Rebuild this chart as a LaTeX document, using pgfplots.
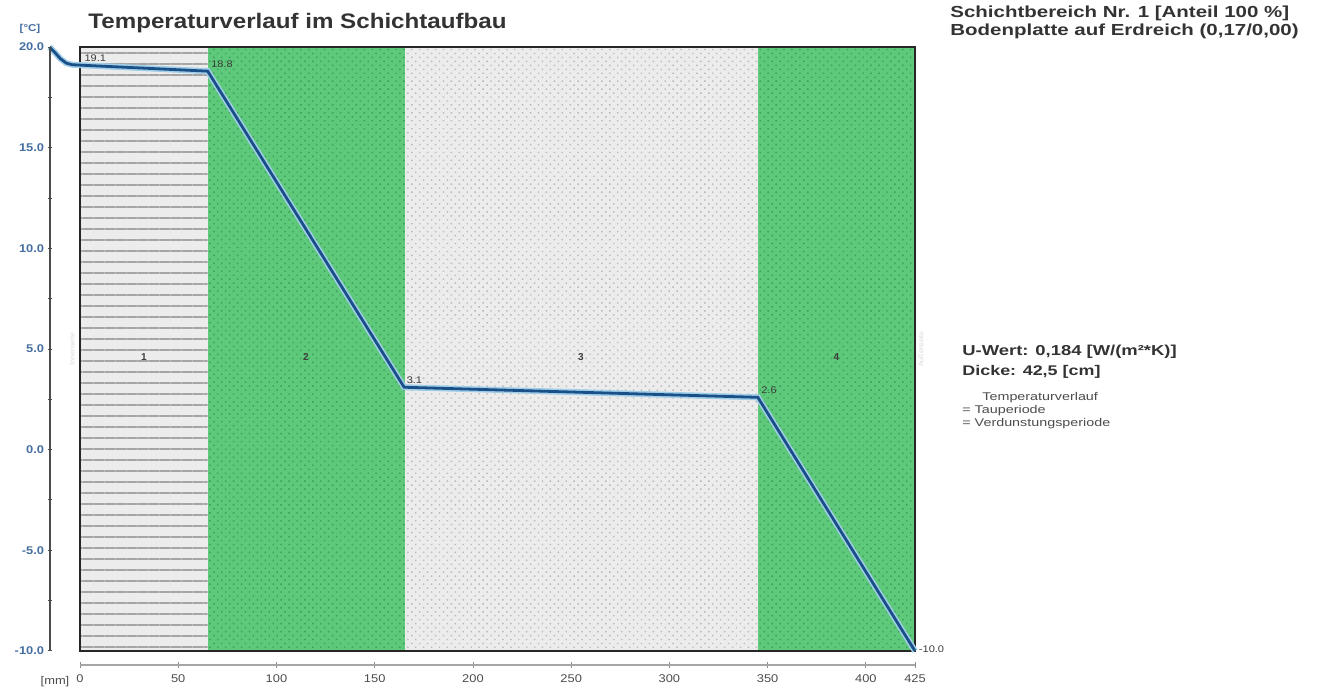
\documentclass[border=0pt]{standalone}
\usepackage{fontspec}
\setmainfont{Liberation Sans}
\newfontfamily\wide[FakeStretch=1.28]{Liberation Sans}
\newfontfamily\semiwide[FakeStretch=1.15]{Liberation Sans}
\usepackage{pgfplots}
\usepackage{pgfplotstable}
\pgfplotsset{compat=1.18}
\usetikzlibrary{patterns.meta}

\definecolor{lgreen}{RGB}{94,201,122}
\definecolor{dgreen}{RGB}{58,160,88}
\definecolor{lgray}{RGB}{236,236,236}
\definecolor{dotgray}{RGB}{185,185,185}
\definecolor{linegray}{RGB}{165,165,165}
\definecolor{lineblue}{RGB}{26,80,135}
\definecolor{haloblue}{RGB}{160,205,232}
\definecolor{tickblue}{RGB}{70,110,160}
\definecolor{txtgray}{RGB}{60,60,60}

\pgfplotstableread{
x y
-15.5 20.0
-13 19.75
-10 19.42
-7 19.2
-4 19.12
0 19.1
65 18.8
165 3.1
345 2.6
425 -10.0
}\profile

\begin{document}
\begin{tikzpicture}[x=1pt,y=1pt]
\useasboundingbox (0,0) rectangle (659.5,345.5);

% main plot area
\begin{axis}[
  at={(40pt,20pt)}, anchor=south west,
  scale only axis, width=417.5pt, height=302pt,
  xmin=0, xmax=425, ymin=-10, ymax=20,
  hide axis, clip=false,
]
% layer 1
\addplot[fill=lgray, draw=none] coordinates {(0,-10) (65,-10) (65,20) (0,20)} -- cycle;
\addplot[pattern={Lines[angle=0,distance=5.5pt,line width=0.6pt]}, pattern color=linegray, draw=none] coordinates {(0,-10) (65,-10) (65,20) (0,20)} -- cycle;
% layer 2
\addplot[fill=lgreen, draw=none] coordinates {(65,-10) (165.5,-10) (165.5,20) (65,20)} -- cycle;
\addplot[pattern={Dots[distance=2.8pt,radius=0.5pt,angle=45]}, pattern color=dgreen, draw=none] coordinates {(65,-10) (165.5,-10) (165.5,20) (65,20)} -- cycle;
% layer 3
\addplot[fill=lgray, draw=none] coordinates {(165.5,-10) (345,-10) (345,20) (165.5,20)} -- cycle;
\addplot[pattern={Dots[distance=2.8pt,radius=0.5pt,angle=45]}, pattern color=dotgray, draw=none] coordinates {(165.5,-10) (345,-10) (345,20) (165.5,20)} -- cycle;
% layer 4
\addplot[fill=lgreen, draw=none] coordinates {(345,-10) (425,-10) (425,20) (345,20)} -- cycle;
\addplot[pattern={Dots[distance=2.8pt,radius=0.5pt,angle=45]}, pattern color=dgreen, draw=none] coordinates {(345,-10) (425,-10) (425,20) (345,20)} -- cycle;

% frame
\draw[black!85, line width=1pt] (rel axis cs:0,0) rectangle (rel axis cs:1,1);

% temperature profile
\addplot[haloblue, line width=3pt] table {\profile};
\addplot[lineblue, line width=1.4pt] table {\profile};

% layer numbers
\begin{scope}[font=\fontsize{5}{5}\selectfont\bfseries, text=txtgray]
\node at (axis cs:32.5,4.6) {1};
\node at (axis cs:115,4.6) {2};
\node at (axis cs:255,4.6) {3};
\node at (axis cs:385,4.6) {4};
\end{scope}
% point labels
\begin{scope}[font=\semiwide\fontsize{4.8}{5}\selectfont, text=txtgray]
\node[anchor=south west, inner sep=0.6pt] at (axis cs:1.5,19.2) {19.1};
\node[anchor=south west, inner sep=0.6pt] at (axis cs:66,18.9) {18.8};
\node[anchor=south west, inner sep=0.6pt] at (axis cs:165.5,3.2) {3.1};
\node[anchor=south west, inner sep=0.6pt] at (axis cs:346,2.7) {2.6};
\node[anchor=west, inner sep=0.8pt] at (axis cs:426,-9.9) {-10.0};
\end{scope}
% faint side labels
\node[rotate=90, font=\fontsize{3.5}{4}\selectfont, text=black!15] at (axis cs:-4,5) {Innenseite};
\node[rotate=90, font=\fontsize{3.5}{4}\selectfont, text=black!15] at (axis cs:428,5) {Außenseite};
\end{axis}

% y axis
\begin{axis}[
  at={(25pt,20pt)}, anchor=south west,
  scale only axis, width=1pt, height=302pt,
  xmin=0, xmax=1, ymin=-10, ymax=20,
  axis y line=left, axis x line=none,
  axis line style={-, draw=black!70, line width=0.7pt},
  ytick={-10,-5,...,20}, minor y tick num=1,
  tick align=center, major tick length=2.5pt, minor tick length=2pt,
  tick style={draw=black!70, line width=0.5pt},
  yticklabel style={font=\semiwide\fontsize{5.6}{6}\selectfont\bfseries, text=tickblue, inner sep=1.5pt, /pgf/number format/.cd, fixed, fixed zerofill, precision=1, assume math mode=true},
]
\addplot[draw=none] coordinates {(0,0)};
\end{axis}

% x axis
\begin{axis}[
  at={(40pt,13pt)}, anchor=south west,
  scale only axis, width=417.5pt, height=1pt,
  xmin=0, xmax=425, ymin=0, ymax=1,
  axis x line=bottom, axis y line=none,
  axis line style={-, draw=black!35, line width=0.6pt},
  xtick={0,50,100,150,200,250,300,350,400,425},
  tick align=center, major tick length=3pt,
  tick style={draw=black!45, line width=0.4pt},
  xticklabel style={font=\semiwide\fontsize{5.6}{6}\selectfont, text=black!70, /pgf/number format/assume math mode=true},
]
\addplot[draw=none] coordinates {(0,0)};
\end{axis}

% texts
\node[anchor=west, inner sep=0, font=\semiwide\fontsize{10.5}{12}\selectfont\bfseries, text=black!80] at (44,333.8) {Temperaturverlauf im Schichtaufbau};
\node[inner sep=0, font=\semiwide\fontsize{5}{5}\selectfont\bfseries, text=tickblue] at (15,331) {[°C]};
\node[inner sep=0, font=\semiwide\fontsize{5.6}{6}\selectfont, text=black!70] at (27.5,4.8) {[mm]};

\node[anchor=north west, inner sep=0, align=left, font=\wide\fontsize{8}{9}\selectfont\bfseries, text=black!80] at (475,342.5) {Schichtbereich Nr. 1 [Anteil 100 \%]\\Bodenplatte auf Erdreich (0,17/0,00)};

\node[anchor=west, inner sep=0, font=\wide\fontsize{7.2}{7}\selectfont\bfseries, text=black!80] at (481,169.5) {U-Wert: 0,184 [W/(m²*K)]};
\node[anchor=west, inner sep=0, font=\wide\fontsize{7}{7}\selectfont\bfseries, text=black!80] at (481,159.5) {Dicke: 42,5 [cm]};
\node[anchor=west, inner sep=0, font=\wide\fontsize{5.6}{6}\selectfont, text=black!70] at (491,146.5) {Temperaturverlauf};
\node[anchor=west, inner sep=0, font=\wide\fontsize{5.6}{6}\selectfont, text=black!70] at (481,140) {= Tauperiode};
\node[anchor=west, inner sep=0, font=\wide\fontsize{5.6}{6}\selectfont, text=black!70] at (481,133.5) {= Verdunstungsperiode};
\end{tikzpicture}
\end{document}
